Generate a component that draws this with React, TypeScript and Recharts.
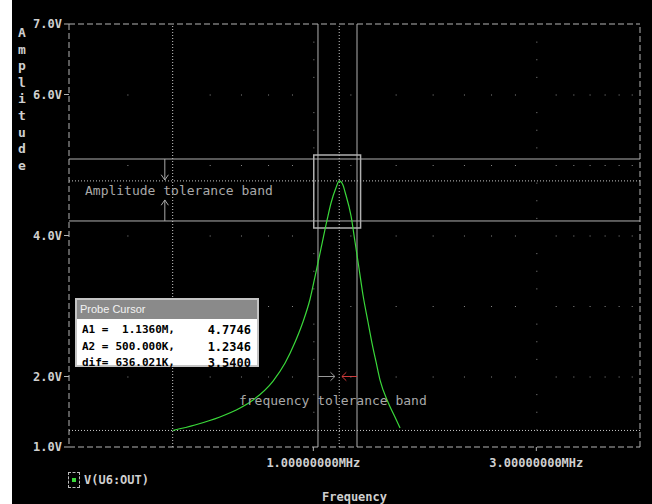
import React from 'react';
import {
  ComposedChart,
  Line,
  Scatter,
  XAxis,
  YAxis,
  ReferenceLine,
  ReferenceArea,
  ReferenceDot
} from 'recharts';

document.body.style.margin = '0';

// V(U6:OUT) trace
const freq = [500e3, 558e3, 631e3, 697e3, 743e3, 820e3, 870e3, 914e3, 950e3, 984e3, 1.013e6, 1.039e6, 1.07e6, 1.091e6, 1.1175e6, 1.136e6, 1.157e6, 1.169e6, 1.204e6, 1.228e6, 1.252e6, 1.277e6, 1.309e6, 1.335e6, 1.362e6, 1.389e6, 1.444e6, 1.488e6, 1.533e6];
const amp = [1.2346, 1.312, 1.426, 1.553, 1.667, 1.936, 2.191, 2.489, 2.773, 3.099, 3.482, 3.823, 4.22, 4.461, 4.674, 4.7746, 4.716, 4.617, 4.277, 3.908, 3.539, 3.156, 2.773, 2.475, 2.206, 1.95, 1.638, 1.454, 1.27];

const xTicks = [1e6, 3e6];
const yTicks = [1, 2, 4, 6, 7];

// cursors
const cursorFreq = [1.136e6, 500e3];
const cursorAmp = [4.7746, 1.2346];
const probeLabels = ['A1 =', 'A2 =', 'dif='];
const probeX = ['1.1360M,', '500.000K,', '636.021K,'];
const probeY = ['4.7746', '1.2346', '3.5400'];

// tolerance bands
const ampBand = [4.206, 5.085];
const freqBand = [1.023e6, 1.24e6];
const boxFreq = [1.002e6, 1.262e6];
const boxAmp = [4.106, 5.142];
const ampArrowFreq = 0.481e6;
const ampArrowTips = [4.787, 4.504];
const freqArrowAmp = 2.0;
const freqArrowTips = [1.112e6, 1.151e6];

// dotted grid
const gridRows = [2, 3, 4, 5, 6];
const gridRowFreqs = [4e5, 6e5, 7e5, 8e5, 9e5, 1.2e6, 1.5e6, 1.8e6, 2.1e6, 2.4e6, 2.7e6, 3.3e6, 3.6e6, 3.9e6, 4.2e6, 4.5e6, 4.8e6];
const gridCols = [1e6, 3e6];
const gridColAmps = [1.25, 1.5, 1.75, 2.25, 2.5, 2.75, 3.25, 3.5, 3.75, 4.25, 4.5, 4.75, 5.25, 5.5, 5.75, 6.25, 6.5, 6.75];

const trace = freq.map((f, i) => ({ x: f, y: amp[i] }));
const gridDots = [
  ...gridRows.flatMap((v) => gridRowFreqs.map((f) => ({ x: f, y: v }))),
  ...gridCols.flatMap((f) => gridColAmps.map((v) => ({ x: f, y: v })))
];

const mono = '"DejaVu Sans Mono", monospace';
const axisCol = '#b4b4b4';

// arrow heads built as two short segments back from the tip
function headV(f: number, tip: number, dir: number) {
  const back = tip - dir * 0.075;
  return [
    [{ x: f / 1.018, y: back }, { x: f, y: tip }],
    [{ x: f * 1.018, y: back }, { x: f, y: tip }]
  ];
}
function headH(f: number, v: number, dir: number) {
  const back = dir > 0 ? f / 1.022 : f * 1.022;
  return [
    [{ x: back, y: v + 0.06 }, { x: f, y: v }],
    [{ x: back, y: v - 0.06 }, { x: f, y: v }]
  ];
}

const textShape = (txt: string) => (p: any) => (
  <text x={p.cx} y={p.cy} dy="0.35em" fill="#a8a8a8" fontSize={13} fontFamily={mono}>
    {txt}
  </text>
);

export default function App() {
  const segs: { s: any; c: string }[] = [
    { s: [{ x: ampArrowFreq, y: ampBand[1] }, { x: ampArrowFreq, y: ampArrowTips[0] }], c: '#aaa' },
    { s: [{ x: ampArrowFreq, y: ampBand[0] }, { x: ampArrowFreq, y: ampArrowTips[1] }], c: '#aaa' },
    ...headV(ampArrowFreq, ampArrowTips[0], -1).map((s) => ({ s, c: '#aaa' })),
    ...headV(ampArrowFreq, ampArrowTips[1], 1).map((s) => ({ s, c: '#aaa' })),
    { s: [{ x: freqBand[0], y: freqArrowAmp }, { x: freqArrowTips[0], y: freqArrowAmp }], c: '#999' },
    ...headH(freqArrowTips[0], freqArrowAmp, 1).map((s) => ({ s, c: '#999' })),
    { s: [{ x: freqBand[1], y: freqArrowAmp }, { x: freqArrowTips[1], y: freqArrowAmp }], c: '#d03a3a' },
    ...headH(freqArrowTips[1], freqArrowAmp, -1).map((s) => ({ s, c: '#d03a3a' }))
  ];

  return (
    <div style={{ position: 'relative', width: 652, height: 504, background: '#000', overflow: 'hidden' }}>
      <ComposedChart width={652} height={504} margin={{ top: 24, right: 12, bottom: 0, left: 0 }}>
        <XAxis
          dataKey="x"
          type="number"
          scale="log"
          domain={[3e5, 5e6]}
          allowDataOverflow
          ticks={xTicks}
          tickFormatter={(v: number) => (v / 1e6).toFixed(8) + 'MHz'}
          height={57}
          axisLine={{ stroke: axisCol, strokeDasharray: '6 3' }}
          tickLine={{ stroke: axisCol }}
          tickSize={4}
          tickMargin={7}
          tick={{ fill: '#cfcfcf', fontSize: 12, fontFamily: mono, fontWeight: 'bold' }}
          label={{ value: 'Frequency', position: 'insideBottom', offset: 3, fill: '#cfcfcf', fontSize: 12, fontFamily: mono, fontWeight: 'bold' }}
        />
        <YAxis
          dataKey="y"
          type="number"
          domain={[1, 7]}
          allowDataOverflow
          ticks={yTicks}
          tickFormatter={(v: number) => v.toFixed(1) + 'V'}
          width={69}
          axisLine={{ stroke: axisCol, strokeDasharray: '6 3' }}
          tickLine={{ stroke: axisCol }}
          tickSize={5}
          tickMargin={2}
          tick={{ fill: '#cfcfcf', fontSize: 12, fontFamily: mono, fontWeight: 'bold' }}
        />
        <ReferenceLine y={7} stroke={axisCol} strokeDasharray="6 3" />
        <ReferenceLine x={5e6} stroke={axisCol} strokeDasharray="6 3" />

        <Scatter
          data={gridDots}
          isAnimationActive={false}
          shape={(p: any) => <rect x={p.cx} y={p.cy} width={1} height={1} fill="#8a8a8a" />}
        />

        {ampBand.map((v) => (
          <ReferenceLine key={'ab' + v} y={v} stroke="#b0b0b0" strokeWidth={1} />
        ))}
        {freqBand.map((f) => (
          <ReferenceLine key={'fb' + f} x={f} stroke="#b0b0b0" strokeWidth={1} />
        ))}
        <ReferenceArea
          x1={boxFreq[0]}
          x2={boxFreq[1]}
          y1={boxAmp[0]}
          y2={boxAmp[1]}
          fill="none"
          fillOpacity={0}
          stroke="#b0b0b0"
          strokeWidth={1.5}
        />
        {cursorFreq.map((f) => (
          <ReferenceLine key={'cf' + f} x={f} stroke="#c8c8c8" strokeDasharray="1 2" />
        ))}
        {cursorAmp.map((v) => (
          <ReferenceLine key={'ca' + v} y={v} stroke="#c8c8c8" strokeDasharray="1 2" />
        ))}
        {segs.map((g, i) => (
          <ReferenceLine key={'s' + i} segment={g.s} stroke={g.c} strokeWidth={1} ifOverflow="visible" />
        ))}
        <ReferenceDot x={0.3246e6} y={4.645} r={0} shape={textShape('Amplitude tolerance band')} />
        <ReferenceDot x={0.693e6} y={1.667} r={0} shape={textShape('frequency tolerance band')} />

        <Line
          data={trace}
          dataKey="y"
          type="monotone"
          stroke="#3ad83a"
          strokeWidth={1.2}
          dot={false}
          isAnimationActive={false}
        />
      </ComposedChart>

      <div style={{ position: 'absolute', left: 0, top: 0, width: 12, height: 504, background: '#fff' }} />

      <div
        style={{
          position: 'absolute',
          left: 14,
          top: 25,
          width: 16,
          textAlign: 'center',
          color: '#cfcfcf',
          font: `bold 13px ${mono}`,
          lineHeight: '16.6px'
        }}
      >
        {'Amplitude'.split('').map((c, i) => (
          <div key={i}>{c}</div>
        ))}
      </div>

      <div
        style={{
          position: 'absolute',
          left: 75,
          top: 298,
          width: 184,
          height: 69,
          background: '#fff',
          border: '2px solid #c4c4c4',
          boxSizing: 'border-box'
        }}
      >
        <div
          style={{
            height: 19,
            background: '#8a8a8a',
            color: '#f2f2f2',
            font: '11px "Liberation Sans Narrow", "Liberation Sans", sans-serif',
            lineHeight: '19px',
            paddingLeft: 3
          }}
        >
          Probe Cursor
        </div>
        {probeLabels.map((l, i) => (
          <div
            key={l}
            style={{
              position: 'absolute',
              left: 0,
              top: 22 + i * 16.5,
              width: 180,
              height: 16,
              font: `bold 11px ${mono}`,
              color: '#000',
              lineHeight: '16px'
            }}
          >
            <span style={{ position: 'absolute', left: 5 }}>{l}</span>
            <span style={{ position: 'absolute', right: 82 }}>{probeX[i]}</span>
            <span style={{ position: 'absolute', right: 6, fontSize: 12 }}>{probeY[i]}</span>
          </div>
        ))}
      </div>

      <div
        style={{
          position: 'absolute',
          left: 68,
          top: 472,
          width: 10,
          height: 14,
          border: '1px dashed #bbb'
        }}
      >
        <div style={{ position: 'absolute', left: 3, top: 5, width: 4, height: 4, background: '#3ad83a' }} />
      </div>
      <div
        style={{
          position: 'absolute',
          left: 84,
          top: 472,
          color: '#cfcfcf',
          font: `bold 12px ${mono}`,
          lineHeight: '16px'
        }}
      >
        V(U6:OUT)
      </div>
    </div>
  );
}
